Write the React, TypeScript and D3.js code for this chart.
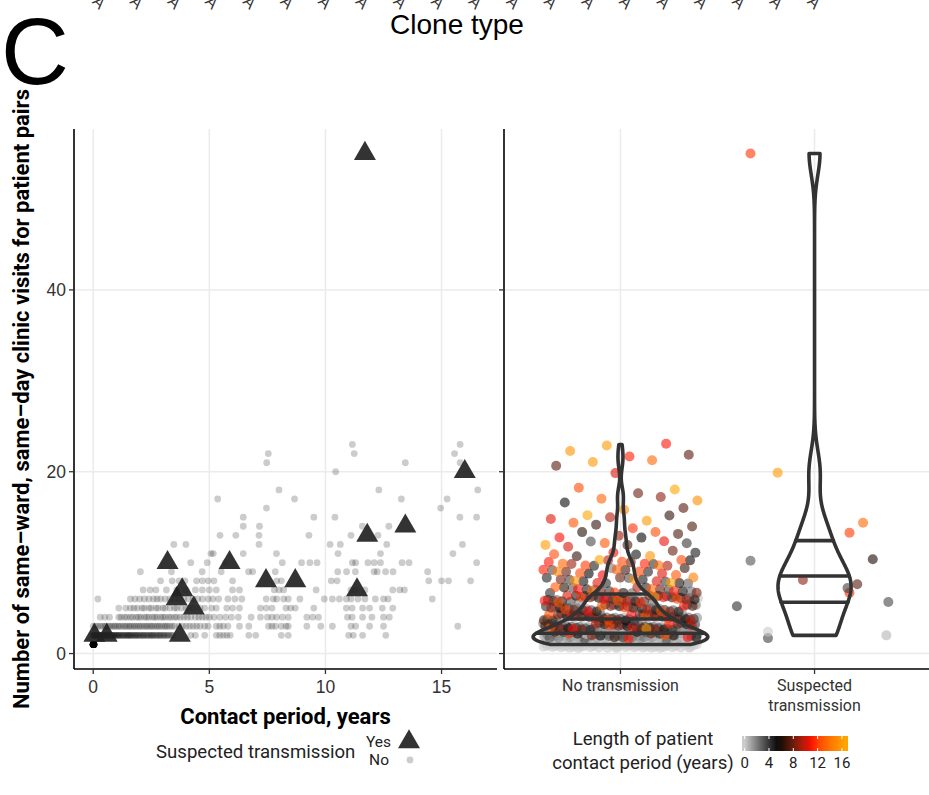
import React, { useMemo } from "react";
import * as d3 from "d3";

const W = 929;
const H = 795;

// ---------- DATA ----------
// Cut-off x labels of the panel above (only their tails are visible)
const cloneTypeLabels = [
  "CC22-A", "CC22-A", "CC22-A", "CC22-A", "CC22-A", "CC22-A", "CC22-A", "CC22-A", "CC22-A", "CC22-A",
  "CC22-A", "CC22-A", "CC22-A", "CC22-A", "CC22-A", "CC22-A", "CC22-A", "CC22-A", "CC22-A", "CC22-A",
];

// No suspected transmission: number of visits (rows) and contact periods (years) of the pairs in each row
const noVisitLevels = [1, 2, 3, 4, 5, 6, 7, 8, 9, 10, 11, 12, 13, 14, 15, 16, 17, 18, 20, 21, 22, 23];
const noContactByVisits: number[][] = [
  [0, 0, 0, 0, 0, 0, 0, 0, 0, 0, 0.01, 0.01, 0.01, 0.01, 0.01, 0.01, 0.01, 0.01, 0.01, 0.01,
    0.02, 0.02, 0.02, 0.02, 0.02, 0.02, 0.02, 0.02, 0.02, 0.02, 0, 0, 0, 0, 0, 0, 0, 0, 0, 0,
    0.01, 0.01, 0.01, 0.01, 0.01, 0.01, 0.01, 0.01, 0.02, 0.02, 0.02, 0.02, 0.02, 0.02, 0.03, 0.03, 0.03, 0.03, 0.03, 0.03,
    0, 0, 0, 0, 0.01, 0.01, 0, 0, 0, 0, 0, 0, 0, 0, 0.01, 0.01, 0.01, 0.01, 0.01, 0.01,
    0.02, 0.02, 0.02, 0.02, 0.02, 0.03, 0.03, 0.03, 0.03, 0.04, 0, 0, 0, 0, 0.01, 0.01, 0.02, 0.02, 0.03, 0.04],
  [0.0, 0.03, 0.06, 0.1, 0.14, 0.18, 0.2, 0.25, 0.3, 0.33, 0.38, 0.42, 0.47, 0.5, 0.55, 0.6, 0.64, 0.7, 0.74, 0.8,
    0.85, 0.9, 0.95, 1.0, 1.06, 1.1, 1.15, 1.22, 1.28, 1.33, 1.4, 1.45, 1.52, 1.58, 1.63, 1.7, 1.76, 1.82, 1.88, 1.95,
    2.0, 2.08, 2.15, 2.2, 2.28, 2.35, 2.42, 2.5, 2.55, 2.62, 2.7, 2.78, 2.85, 2.92, 3.0, 3.08, 3.15, 3.25, 3.33, 3.45,
    0.02, 0.08, 0.12, 0.22, 0.28, 0.36, 0.44, 0.52, 0.58, 0.67, 0.77, 0.83, 0.92, 1.03, 1.13, 1.25, 1.36, 1.48, 1.55, 1.66,
    1.79, 1.91, 2.05, 2.18, 2.32, 2.46, 2.59, 2.74, 2.88, 3.04, 3.2, 3.38, 0.0, 0.04,
    4.2, 4.4, 4.8, 5.3, 5.45, 5.6, 5.75, 5.9, 6.7, 7.0, 8.1, 8.4, 11.0, 11.2, 11.6, 12.6],
  [0.0, 0.1, 0.2, 0.3, 0.4, 0.5, 0.55, 0.65, 0.72, 0.8, 0.9, 0.95, 1.05, 1.12, 1.2, 1.3, 1.38, 1.45, 1.55, 1.6,
    1.7, 1.78, 1.85, 1.95, 2.02, 2.1, 2.2, 2.28, 2.35, 2.45, 2.52, 2.6, 2.7, 2.78, 2.85, 2.95, 3.05, 3.12, 3.2, 3.3,
    3.4, 3.5, 3.7, 3.85, 4.0, 4.15, 4.3, 4.45, 4.6, 4.8, 4.95, 5.3, 5.45, 5.6, 5.8, 6.3, 6.7, 7.55, 7.7, 7.85,
    8.1, 8.3, 8.4, 9.2, 9.8, 10.3, 11.1, 11.3, 11.9, 12.5, 15.7],
  [0.3, 0.5, 0.7, 1.1, 1.2, 1.35, 1.45, 1.6, 1.7, 1.85, 1.95, 2.05, 2.2, 2.3, 2.4, 2.55, 2.65, 2.75, 2.9, 3.0,
    3.1, 3.25, 3.35, 3.5, 3.6, 3.75, 3.9, 4.05, 4.2, 4.4, 4.55, 4.7, 4.85, 5.0, 5.2, 5.45, 5.7, 5.95, 6.25, 6.8,
    7.2, 7.5, 7.7, 7.9, 8.15, 8.4, 9.2, 9.45, 9.7, 10.95, 11.15, 11.6, 12.0, 12.5, 12.75],
  [1.1, 1.4, 1.6, 1.75, 1.9, 2.1, 2.2, 2.4, 2.5, 2.7, 2.8, 3.0, 3.1, 3.3, 3.5, 3.6, 3.8, 4.0, 4.1, 4.3,
    4.6, 4.8, 5.1, 5.3, 5.75, 6.0, 6.3, 7.2, 7.45, 7.7, 8.3, 8.5, 8.7, 9.5, 10.9, 11.15, 11.6, 11.9, 12.45, 12.9],
  [0.2, 1.6, 1.8, 2.0, 2.2, 2.4, 2.6, 2.75, 2.9, 3.1, 3.3, 3.5, 3.7, 3.9, 4.1, 4.3, 4.5, 4.7, 4.95, 5.15,
    5.4, 5.8, 6.1, 6.4, 7.45, 7.75, 7.9, 8.2, 8.4, 8.9, 9.95, 10.3, 10.6, 10.9, 11.1, 11.4, 11.7, 12.15, 12.5, 12.7, 14.6],
  [2.15, 2.45, 2.7, 3.15, 3.6, 4.0, 4.4, 4.7, 5.0, 5.3, 6.0, 6.3, 7.8, 8.0, 8.2, 9.6, 11.1, 11.3, 11.7, 12.9, 13.2, 13.4],
  [2.9, 3.4, 3.7, 3.95, 4.45, 4.7, 4.95, 5.2, 6.0, 7.9, 8.1, 10.25, 10.5, 14.45, 15.0, 15.3, 16.25],
  [2.03, 3.37, 4.69, 5.51, 6.69, 6.87, 7.84, 10.53, 10.91, 11.29, 12.09, 12.23, 12.59, 12.91, 14.4],
  [4.2, 4.91, 5.69, 8.14, 8.97, 9.33, 9.64, 11.16, 11.3, 11.83, 12.1, 12.37, 13.3, 13.6, 16.51],
  [5.07, 5.17, 6.46, 7.89, 10.54, 12.37, 15.49],
  [3.47, 3.99, 7.14, 10.2, 10.64, 12.64, 15.9],
  [5.46, 6.14, 7.14, 9.29, 11.1, 12.26],
  [6.46, 7.16, 11.59, 12.73],
  [6.46, 9.5, 10.41, 15.79, 16.51],
  [7.46, 14.96],
  [5.36, 8.67, 13.27, 15.24],
  [8.0, 12.3, 16.56],
  [10.44],
  [7.47, 13.44, 15.8],
  [7.54, 11.24, 15.56],
  [11.16, 15.8],
];

// Suspected transmission pairs
const yesContact = [11.7, 16.0, 11.8, 13.44, 3.2, 5.87, 8.7, 7.44, 11.36, 3.83, 3.59, 4.33, 3.73, 0.05, 0.58];
const yesVisits = [55, 20, 13, 14, 10, 10, 8, 8, 7, 7, 6, 5, 2, 2, 2];
// jitter offsets (x in category units, y in visits) as seen in the right panel
const yesJitterX = [-0.33, -0.19, 0.18, 0.25, -0.33, 0.3, -0.06, 0.22, 0.18, 0.17, 0.38, -0.4, -0.24, -0.24, 0.37];
const yesJitterY = [0, -0.1, 0.3, 0.38, 0.2, 0.38, 0.1, -0.38, -0.3, 0.2, -0.33, 0.2, -0.3, 0.4, 0];

const categories = ["No transmission", "Suspected\ntransmission"];
const xTicksLeft = [0, 5, 10, 15];
const yTicks = [0, 20, 40];
const colorTicks = [0, 4, 8, 12, 16];
const gradientColors = ["#cccccc", "#000000", "#ff0000", "#ffa500"];
const quantileProbs = [0.25, 0.5, 0.75];

// ---------- helpers ----------
const ROBOTO = "Roboto, 'Liberation Sans', sans-serif";
const ARIAL = "'Liberation Sans', Arial, sans-serif";

function kde(values: number[], n = 512) {
  const s = values.slice().sort(d3.ascending);
  const sd = d3.deviation(s) || 1;
  const iqr = (d3.quantile(s, 0.75) as number) - (d3.quantile(s, 0.25) as number);
  let lo = Math.min(sd, iqr / 1.34);
  if (!(lo > 0)) lo = sd;
  const bw = 0.9 * lo * Math.pow(s.length, -0.2);
  const [mn, mx] = d3.extent(s) as [number, number];
  const k = 1 / Math.sqrt(2 * Math.PI);
  return d3.range(n).map((i) => {
    const y = mn + ((mx - mn) * i) / (n - 1);
    let sum = 0;
    for (const v of s) {
      const u = (y - v) / bw;
      sum += k * Math.exp(-0.5 * u * u);
    }
    return { y, density: sum / (s.length * bw) };
  });
}

function interp(xs: number[], ys: number[], x: number) {
  for (let i = 1; i < xs.length; i++) {
    if (x <= xs[i]) {
      const t = xs[i] === xs[i - 1] ? 0 : (x - xs[i - 1]) / (xs[i] - xs[i - 1]);
      return ys[i - 1] + t * (ys[i] - ys[i - 1]);
    }
  }
  return ys[ys.length - 1];
}

function triPath(cx: number, cy: number, side: number) {
  const h = (side * Math.sqrt(3)) / 2;
  return `M${cx},${cy - (2 * h) / 3}L${cx + side / 2},${cy + h / 3}L${cx - side / 2},${cy + h / 3}Z`;
}

export default function App() {
  const m = useMemo(() => {
    const noPts = noVisitLevels.flatMap((v, i) => noContactByVisits[i].map((c) => ({ visits: v, contact: c })));
    const yesPts = yesContact.map((c, i) => ({ visits: yesVisits[i], contact: c, jx: yesJitterX[i], jy: yesJitterY[i] }));

    const allContact = [...noPts.map((d) => d.contact), ...yesContact];
    const allVisits = [...noPts.map((d) => d.visits), ...yesVisits];
    const [cMin, cMax] = d3.extent(allContact) as [number, number];
    const [vMin, vMax] = d3.extent(allVisits) as [number, number];

    const panelTop = 129, panelBottom = 669;
    const xL = d3.scaleLinear()
      .domain([cMin - (cMax - cMin) * 0.05, cMax + (cMax - cMin) * 0.05])
      .range([74, 497]);
    const y = d3.scaleLinear()
      .domain([vMin - (vMax - vMin) * 0.05, vMax + (vMax - vMin) * 0.05])
      .range([panelBottom, panelTop]);
    const xR = d3.scaleLinear().domain([0.4, 2.6]).range([504, 931]);

    const color = d3.scaleLinear<string>()
      .domain(gradientColors.map((_, i) => cMin + ((cMax - cMin) * i) / (gradientColors.length - 1)))
      .range(gradientColors)
      .interpolate(d3.interpolateLab);

    // deterministic jitter layout for the many "no transmission" points
    const noJ = noPts.map((d, k) => ({
      ...d,
      jx: ((((k + 1) * 0.6180339887) % 1) - 0.5) * 0.8,
      jy: ((((k + 1) * 0.7548776662) % 1) - 0.5) * 0.8,
    }));

    // violins
    const groups = [noPts.map((d) => d.visits), yesVisits];
    const dens = groups.map((g) => kde(g));
    const maxD = d3.max(dens.flat(), (d) => d.density) as number;
    const unit = xR(1) - xR(0);
    const violins = dens.map((dd, gi) => {
      const cx = xR(gi + 1);
      const hw = dd.map((d) => (d.density / maxD) * 0.45 * unit);
      const left = dd.map((d, i) => [cx - hw[i], y(d.y)] as [number, number]);
      const right = dd.map((d, i) => [cx + hw[i], y(d.y)] as [number, number]).reverse();
      const path = (d3.line()([...left, ...right]) as string) + "Z";
      const tot = d3.sum(dd, (d) => d.density);
      let acc = 0;
      const cum = dd.map((d) => (acc += d.density) / tot);
      const ys = dd.map((d) => d.y);
      const qs = quantileProbs.map((p) => {
        const yq = interp(cum, ys, p);
        const h = interp(ys, hw, yq);
        return { x1: cx - h, x2: cx + h, y: y(yq) };
      });
      return { path, qs };
    });

    const cbLeft = 742, cbRight = 848;
    const cbW = cbRight - cbLeft;
    const cbX = d3.scaleLinear().domain([cMin, cMax]).range([cbLeft + cbW * 0.025, cbRight - cbW * 0.025]);
    const nbin = 20;
    const stops = d3.range(nbin).map((i) => ({
      offset: (i + 0.5) / nbin,
      color: color(cMin + ((cMax - cMin) * i) / (nbin - 1)),
    }));

    const labelX = d3.scalePoint<number>().domain(d3.range(cloneTypeLabels.length)).range([99, 814]);

    return { noPts, yesPts, noJ, xL, y, xR, color, violins, cbX, cbLeft, cbW, stops, labelX, panelTop, panelBottom };
  }, []);

  const { noPts, yesPts, noJ, xL, y, xR, color, violins, cbX, cbLeft, cbW, stops, labelX, panelTop, panelBottom } = m;
  const grid = "#ebebeb";

  return (
    <svg width={W} height={H} style={{ position: "absolute", left: 0, top: 0, background: "#fff" }}>
      <defs>
        <linearGradient id="cb" x1="0" x2="1" y1="0" y2="0">
          {stops.map((s, i) => (
            <stop key={i} offset={s.offset} stopColor={s.color} />
          ))}
        </linearGradient>
        <clipPath id="clipR">
          <rect x={504} y={panelTop} width={430} height={panelBottom - panelTop} />
        </clipPath>
      </defs>
      <rect width={W} height={H} fill="#fff" />

      {/* cut-off labels from panel above */}
      {cloneTypeLabels.map((t, i) => (
        <text key={i} transform={`translate(${labelX(i)},10) rotate(45)`} textAnchor="end"
          fontFamily={ARIAL} fontSize={16} fill="#333">{t}</text>
      ))}
      <text x={457} y={34} textAnchor="middle" fontFamily={ARIAL} fontSize={28} fill="#000">Clone type</text>
      <text x={1} y={84} fontFamily={ARIAL} fontSize={94} fill="#000">C</text>

      {/* ---- left panel ---- */}
      <g>
        {xTicksLeft.map((t) => (
          <line key={"gx" + t} x1={xL(t)} x2={xL(t)} y1={panelTop} y2={panelBottom} stroke={grid} strokeWidth={1.5} />
        ))}
        {yTicks.map((t) => (
          <line key={"gy" + t} x1={74} x2={497} y1={y(t)} y2={y(t)} stroke={grid} strokeWidth={1.5} />
        ))}
        {noPts.map((d, i) => (
          <circle key={i} cx={xL(d.contact)} cy={y(d.visits)} r={3.4} fill="#000" fillOpacity={0.2} />
        ))}
        {yesPts.map((d, i) => (
          <path key={i} d={triPath(xL(d.contact), y(d.visits), 22)} fill="#222" fillOpacity={0.92} />
        ))}
        <line x1={74} x2={74} y1={panelTop} y2={panelBottom} stroke="#000" strokeWidth={1.6} />
        <line x1={74} x2={497} y1={panelBottom} y2={panelBottom} stroke="#000" strokeWidth={1.6} />
        {yTicks.map((t) => (
          <g key={"ty" + t}>
            <line x1={69} x2={74} y1={y(t)} y2={y(t)} stroke="#333" strokeWidth={1.3} />
            <text x={66} y={y(t)} dy="0.36em" textAnchor="end" fontFamily={ARIAL} fontSize={17.5} fill="#333">{t}</text>
          </g>
        ))}
        {xTicksLeft.map((t) => (
          <g key={"tx" + t}>
            <line x1={xL(t)} x2={xL(t)} y1={panelBottom} y2={panelBottom + 5} stroke="#333" strokeWidth={1.3} />
            <text x={xL(t)} y={693} textAnchor="middle" fontFamily={ARIAL} fontSize={17.5} fill="#333">{t}</text>
          </g>
        ))}
      </g>

      {/* ---- right panel ---- */}
      <g>
        {[1, 2].map((c) => (
          <line key={"gxr" + c} x1={xR(c)} x2={xR(c)} y1={panelTop} y2={panelBottom} stroke={grid} strokeWidth={1.5} />
        ))}
        {yTicks.map((t) => (
          <line key={"gyr" + t} x1={504} x2={931} y1={y(t)} y2={y(t)} stroke={grid} strokeWidth={1.5} />
        ))}
        <g clipPath="url(#clipR)">
          {noJ.map((d, i) => (
            <circle key={i} cx={xR(1 + d.jx)} cy={y(d.visits + d.jy)} r={5} fill={color(d.contact)} fillOpacity={0.6} />
          ))}
          {yesPts.map((d, i) => (
            <circle key={i} cx={xR(2 + d.jx)} cy={y(d.visits + d.jy)} r={5} fill={color(d.contact)} fillOpacity={0.6} />
          ))}
          {violins.map((v, i) => (
            <g key={i}>
              <path d={v.path} fill="none" stroke="#333" strokeWidth={3.6} strokeLinejoin="round" />
              {v.qs.map((q, j) => (
                <line key={j} x1={q.x1} x2={q.x2} y1={q.y} y2={q.y} stroke="#333" strokeWidth={3.6} strokeLinecap="round" />
              ))}
            </g>
          ))}
        </g>
        <line x1={504} x2={504} y1={panelTop} y2={panelBottom} stroke="#000" strokeWidth={1.6} />
        <line x1={504} x2={931} y1={panelBottom} y2={panelBottom} stroke="#000" strokeWidth={1.6} />
        {yTicks.map((t) => (
          <line key={"tyr" + t} x1={499} x2={504} y1={y(t)} y2={y(t)} stroke="#333" strokeWidth={1.3} />
        ))}
        {categories.map((c, i) => (
          <g key={c}>
            <line x1={xR(i + 1)} x2={xR(i + 1)} y1={panelBottom} y2={panelBottom + 5} stroke="#333" strokeWidth={1.3} />
            <text textAnchor="middle" fontFamily={ROBOTO} fontSize={16} fill="#333">
              {c.split("\n").map((part, j) => (
                <tspan key={j} x={xR(i + 1)} y={691 + j * 20}>{part}</tspan>
              ))}
            </text>
          </g>
        ))}
      </g>

      {/* axis titles */}
      <text transform={`translate(29,${(panelTop + panelBottom) / 2}) rotate(-90)`} textAnchor="middle"
        fontFamily={ROBOTO} fontWeight="bold" fontSize={22} fill="#000">
        Number of same–ward, same–day clinic visits for patient pairs
      </text>
      <text x={(74 + 497) / 2} y={724} textAnchor="middle" fontFamily={ROBOTO} fontWeight="bold" fontSize={22} fill="#000">
        Contact period, years
      </text>

      {/* legend: suspected transmission */}
      <text x={156} y={758} fontFamily={ROBOTO} fontSize={18.6} fill="#222">Suspected transmission</text>
      <text x={391} y={747} textAnchor="end" fontFamily={ROBOTO} fontSize={15.5} fill="#222">Yes</text>
      <text x={389} y={765} textAnchor="end" fontFamily={ROBOTO} fontSize={15.5} fill="#222">No</text>
      <path d={triPath(409, 742, 22)} fill="#222" fillOpacity={0.92} />
      <circle cx={410} cy={760} r={3.4} fill="#000" fillOpacity={0.2} />

      {/* legend: colour bar */}
      <text textAnchor="middle" fontFamily={ROBOTO} fontSize={18.6} fill="#222">
        <tspan x={643} y={745}>Length of patient</tspan>
        <tspan x={643} y={769}>contact period (years)</tspan>
      </text>
      <rect x={cbLeft} y={736} width={cbW} height={15} fill="url(#cb)" />
      {colorTicks.map((t) => (
        <g key={"cb" + t}>
          <line x1={cbX(t)} x2={cbX(t)} y1={736} y2={739} stroke="#fff" strokeWidth={1} />
          <line x1={cbX(t)} x2={cbX(t)} y1={748} y2={751} stroke="#fff" strokeWidth={1} />
          <text x={cbX(t)} y={768} textAnchor="middle" fontFamily={ROBOTO} fontSize={15} fill="#222">{t}</text>
        </g>
      ))}
    </svg>
  );
}
